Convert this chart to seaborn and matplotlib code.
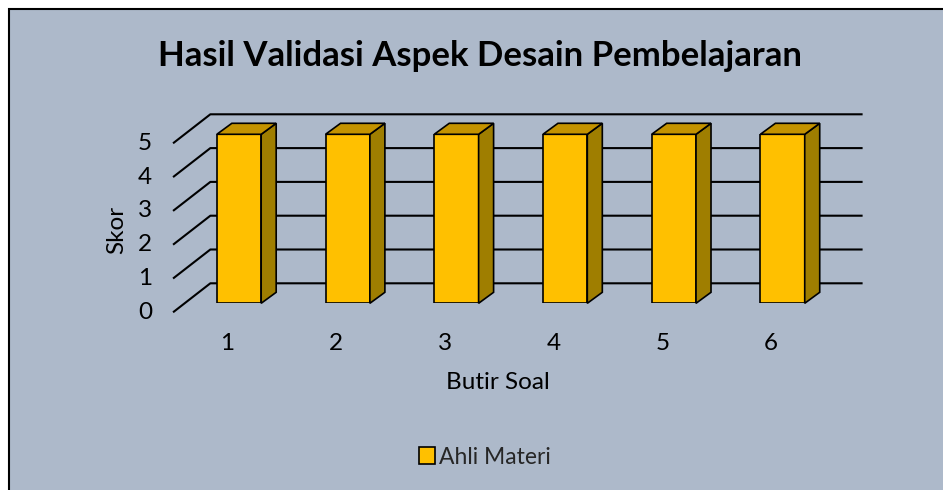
import matplotlib
matplotlib.use("Agg")
import matplotlib.pyplot as plt
import seaborn as sns
import pandas as pd
from matplotlib.patches import Polygon, Rectangle
from matplotlib.lines import Line2D

categories = ["1", "2", "3", "4", "5", "6"]
values = [5, 5, 5, 5, 5, 5]
y_ticks = [0, 1, 2, 3, 4, 5]
series_name = "Ahli Materi"
title = "Hasil Validasi Aspek Desain Pembelajaran"
x_label = "Butir Soal"
y_label = "Skor"

W, H = 943, 490
DPI = 100
BG = "#ADB9CA"
FRONT = "#FFC000"
TOP = "#C49300"
SIDE = "#9F7E00"
FONT = ["Lato", "DejaVu Sans"]
FS = 17.5

sns.set_theme(style="white")
plt.rcParams["font.family"] = FONT

fig = plt.figure(figsize=(W / DPI, H / DPI), dpi=DPI, facecolor="white")
# chart area frame
fig.patches.append(Rectangle((9 / W, -0.1), 1.2, (H - 9) / H + 0.1, transform=fig.transFigure,
                             facecolor=BG, edgecolor="black", linewidth=1.5, zorder=-5))

def fx(px):
    return px / W

def fy(py):
    return (H - py) / H

left_px, right_px = 184.65, 836.9
bot_px, top_px = 303.3, 134.3
ax = fig.add_axes([fx(left_px), fy(bot_px), fx(right_px) - fx(left_px), fy(top_px) - fy(bot_px)])
ax.set_zorder(2)
ax.patch.set_alpha(0)

df = pd.DataFrame({"Butir Soal": categories, "Skor": values})
sns.barplot(data=df, x="Butir Soal", y="Skor", color=FRONT, width=0.408, saturation=1,
            edgecolor="black", linewidth=1.2, label=series_name, ax=ax, zorder=3)
ax.set_xlim(-0.5, len(categories) - 0.5)
ax.set_ylim(0, 5)
for s in ax.spines.values():
    s.set_visible(False)
ax.set_xticks([])
ax.set_yticks([])
ax.set_xlabel("")
ax.set_ylabel("")

T = ax.transData

# 3D wall offsets in pixels (display, y up)
FRONT_OFF = (-11.6, -9.0)
BACK_OFF = (25.7, 20.0)
BAR_DEPTH = (15.0, 11.0)

def disp(x, y, off=(0, 0)):
    p = T.transform((x, y))
    return (p[0] + off[0], p[1] + off[1])

x0, x1 = -0.5, len(categories) - 0.5
for v in y_ticks:
    a = disp(x0, v, FRONT_OFF)
    b = disp(x0, v, BACK_OFF)
    c = disp(x1, v, BACK_OFF)
    ln = Line2D([a[0], b[0], c[0]], [a[1], b[1], c[1]], transform=None, color="black",
                linewidth=1.5, zorder=1, solid_capstyle="butt")
    fig.add_artist(ln)
    tp = disp(x0, v, (-32.6, FRONT_OFF[1]))
    fig.text(tp[0] / W, tp[1] / H, str(v), ha="right", va="center", fontsize=FS, color="black")

# 3D bar faces
for p in list(ax.patches):
    x, w, h = p.get_x(), p.get_width(), p.get_height()
    tl = disp(x, h)
    tr = disp(x + w, h)
    br = disp(x + w, 0)
    dx, dy = BAR_DEPTH
    side = Polygon([br, tr, (tr[0] + dx, tr[1] + dy), (br[0] + dx, br[1] + dy)], closed=True,
                   transform=None, facecolor=SIDE, edgecolor="black", linewidth=1.2, zorder=4)
    top = Polygon([tl, tr, (tr[0] + dx, tr[1] + dy), (tl[0] + dx, tl[1] + dy)], closed=True,
                  transform=None, facecolor=TOP, edgecolor="black", linewidth=1.2, zorder=4)
    fig.add_artist(side)
    fig.add_artist(top)

for i, c in enumerate(categories):
    p = disp(i, 0, (FRONT_OFF[0], 0))
    fig.text(p[0] / W, fy(343), c, ha="center", va="center", fontsize=FS, color="black")

fig.text(fx(498), fy(382), x_label, ha="center", va="center", fontsize=FS, color="black")
fig.text(fx(117), fy(230), y_label, ha="center", va="center", rotation=90, fontsize=FS, color="black")
fig.text(fx(480), fy(56), title, ha="center", va="center", fontsize=25, fontweight="bold", color="black")

leg = ax.legend(loc="center", bbox_to_anchor=(fx(485), fy(457)), bbox_transform=fig.transFigure,
                frameon=False, fontsize=16.5, handlelength=0.7, handleheight=0.7, handletextpad=0.2,
                borderpad=0)
for hnd in leg.legend_handles:
    hnd.set_edgecolor("black")
    hnd.set_linewidth(1.2)

fig.savefig("out.png", dpi=DPI, facecolor="white")
